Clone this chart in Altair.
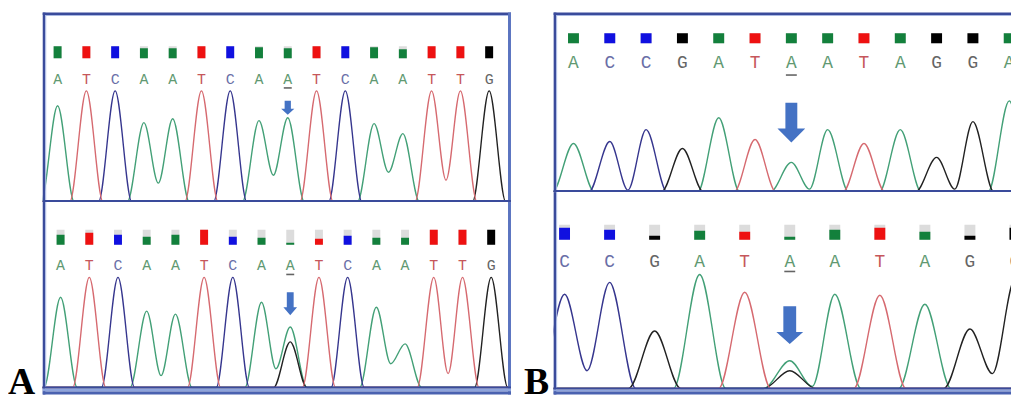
import altair as alt
import pandas as pd

# ---------------- data ----------------
# Panel A, upper trace (reference)
A_TOP_BASES = list("ATCAATCAATCAATTG")
A_TOP_PEAKS = [97, 112, 112, 80, 84, 112, 112, 82, 85, 112, 112, 79, 69, 112, 112, 112]
A_TOP_TROUGH_AFTER = [3, 7, 11, 13]
A_TOP_TROUGHS = [19, 27, 30, 22]
A_TOP_SECOND_AT = []
A_TOP_SECOND_BASE = []
A_TOP_SECOND = []
A_TOP_QUALITY = [12, 12, 12, 10, 10, 12, 12, 11, 10, 12, 12, 11, 9, 12, 12, 12]
A_TOP_VARIANT = 8

# Panel A, lower trace (heterozygous A/G)
A_BOT_BASES = list("ATCAATCAATCAATTG")
A_BOT_PEAKS = [91, 111, 111, 77, 74, 111, 111, 86, 61, 111, 111, 81, 44, 111, 111, 111]
A_BOT_TROUGH_AFTER = [3, 7, 11, 13]
A_BOT_TROUGHS = [12, 19, 24, 14]
A_BOT_SECOND_AT = [8]
A_BOT_SECOND_BASE = ["G"]
A_BOT_SECOND = [46]
A_BOT_QUALITY = [10, 12, 10, 8, 10, 15, 8, 7, 2, 6, 9, 7, 7, 15, 15, 15]
A_BOT_VARIANT = 8

# Panel B, upper trace
B_TOP_BASES = list("ACCGATAATAGGA")
B_TOP_PEAKS = [49, 51, 63, 44, 75, 53, 30, 63, 49, 63, 35, 71, 92]
B_TOP_TROUGH_AFTER = [1, 6, 10]
B_TOP_TROUGHS = [2, 3, 3]
B_TOP_SECOND_AT = []
B_TOP_SECOND_BASE = []
B_TOP_SECOND = []
B_TOP_QUALITY = [10, 10, 10, 10, 10, 10, 10, 10, 10, 10, 10, 10, 10]
B_TOP_VARIANT = 6

# Panel B, lower trace (heterozygous A/G)
B_BOT_BASES = list("CCGATAATAGG")
B_BOT_PEAKS = [95, 107, 58, 115, 97, 28, 95, 94, 85, 60, 110]
B_BOT_TROUGH_AFTER = [0, 5, 9]
B_BOT_TROUGHS = [18, 2, 15]
B_BOT_SECOND_AT = [5]
B_BOT_SECOND_BASE = ["G"]
B_BOT_SECOND = [18]
B_BOT_QUALITY = [12, 10, 4, 9, 8, 3, 10, 12, 8, 4, 12]
B_BOT_VARIANT = 5

# ---------------- styles ----------------
CH = ["A", "C", "G", "T"]
TRACE_COL = ["#43a077", "#36368e", "#222222", "#d66a70"]
SQUARE_COL = ["#13803c", "#1010e0", "#000000", "#ee1111"]
LETTER_COL = ["#4f8f63", "#5a5f9e", "#555555", "#c0454a"]
DARK = "#3a4b9b"
LIGHT = "#a9b8e2"
ARROW = "#4472c4"
ONE = alt.Data(values=[{"k": 0}])


def trace_rows(bases, peaks, t_after, t_vals, s_at, s_base, s_vals, xdom, foot=0.58):
    n = len(bases)
    tr = dict(zip(t_after, t_vals))
    rows = []
    for ch in CH:
        ph = {i: peaks[i] for i, b in enumerate(bases) if b == ch}
        for i, b, v in zip(s_at, s_base, s_vals):
            if b == ch:
                ph[i] = v
        pts = [(xdom[0] - 2, 0)]
        if 0 in ph:
            pts.append((-foot, 0))
        for i in range(n):
            if i in ph:
                pts.append((i, ph[i]))
            if i in ph and (i + 1) in ph:
                pts.append((i + 0.5, tr.get(i, 0)))
            else:
                if i in ph:
                    pts.append((i + foot, 0))
                if (i + 1) in ph:
                    pts.append((i + 1 - foot, 0))
        pts.append((xdom[1] + 2, 0))
        for x, y in pts:
            rows.append({"x": x, "y": y, "ch": ch})
    return pd.DataFrame(rows)


def band(x0, x1, y0, y1, color):
    # decorative frame piece, drawn as a filled rectangle inside the view
    return alt.Chart(ONE).mark_rect(color=color, strokeWidth=0).encode(
        x=alt.value(x0), x2=alt.value(x1), y=alt.value(y0), y2=alt.value(y1))


def panel(bases, peaks, t_after, t_vals, s_at, s_base, s_vals, quality, variant, cfg):
    W, H = cfg["w"], cfg["h"]
    xdom, ydom = cfg["xdom"], cfg["ydom"]
    xs = alt.Scale(domain=xdom, nice=False, zero=False)
    ys = alt.Scale(domain=ydom, nice=False, zero=False)
    base_px = H * (ydom[1] - 0) / (ydom[1] - ydom[0])

    tr = trace_rows(bases, peaks, t_after, t_vals, s_at, s_base, s_vals, xdom)
    traces = alt.Chart(tr).mark_line(interpolate="monotone", strokeWidth=1.4, clip=True).encode(
        x=alt.X("x:Q", scale=xs, axis=None),
        y=alt.Y("y:Q", scale=ys, axis=None),
        color=alt.Color("ch:N", scale=alt.Scale(domain=CH, range=TRACE_COL), legend=None),
    )

    mk = pd.DataFrame({
        "i": list(range(len(bases))),
        "base": bases,
        "q": quality,
    })
    bot, full = cfg["mbottom"], cfg["mfull"]
    grey = alt.Chart(mk).mark_rule(strokeWidth=cfg["mw"], color="#dcdcdc", clip=True).transform_calculate(
        y0=str(bot), y1=str(bot + full)).encode(
        x=alt.X("i:Q", scale=xs, axis=None),
        y=alt.Y("y1:Q", scale=ys, axis=None), y2="y0:Q")
    sq = alt.Chart(mk).mark_rule(strokeWidth=cfg["mw"], clip=True).transform_calculate(
        y0=str(bot), y1=f"{bot} + datum.q").encode(
        x=alt.X("i:Q", scale=xs, axis=None),
        y=alt.Y("y1:Q", scale=ys, axis=None), y2="y0:Q",
        color=alt.Color("base:N", scale=alt.Scale(domain=CH, range=SQUARE_COL), legend=None))
    letters = alt.Chart(mk).mark_text(font="Liberation Mono", fontSize=cfg["fs"], clip=True,
                                      baseline="middle", opacity=0.9).transform_calculate(
        ly=str(cfg["ly"])).encode(
        x=alt.X("i:Q", scale=xs, axis=None),
        y=alt.Y("ly:Q", scale=ys, axis=None),
        text="base:N",
        color=alt.Color("base:N", scale=alt.Scale(domain=CH, range=LETTER_COL), legend=None))

    vdf = pd.DataFrame({"i": [variant]})
    under = alt.Chart(vdf).mark_tick(orient="horizontal", size=cfg["ulen"], thickness=1.6,
                                     color="#222222").transform_calculate(uy=str(cfg["uy"])).encode(
        x=alt.X("i:Q", scale=xs, axis=None), y=alt.Y("uy:Q", scale=ys, axis=None))
    arrow = alt.Chart(vdf).mark_point(shape=cfg["ashape"], size=cfg["asize"], filled=True,
                                      color=ARROW, opacity=1, strokeWidth=0).transform_calculate(
        ay=str(cfg["ay"])).encode(
        x=alt.X("i:Q", scale=xs, axis=None), y=alt.Y("ay:Q", scale=ys, axis=None))

    frames = [band(0, 2.5, 0, H, DARK), band(2.5, 3.5, 0, H, LIGHT)]
    if cfg["top"]:
        frames += [band(0, W, 0, 2.5, DARK), band(2.5, W, 2.5, 3.5, LIGHT)]
    if cfg["right"]:
        frames += [band(W - 3, W, 0, H, "#5b74c0")]
    b = min(base_px, H - 1)
    frames += [band(0, W, b - 1, b + 1, DARK)]
    if base_px < H - 2:
        frames += [band(0, W, base_px + 1, H - 3, "#8ea4dc"), band(0, W, H - 3, H, "#4a62b0")]

    return alt.layer(traces, grey, sq, letters, under, arrow, *frames).resolve_scale(
        color="independent").properties(width=W, height=H)


A_TOP_CFG = dict(w=472, h=191, xdom=[-0.517, 15.759], ydom=[0, 191], mbottom=145, mfull=12, mw=8,
                 ly=124, fs=15, uy=115, ulen=8, ay=95, asize=196, top=True, right=True,
                 ashape="M-0.45,-1L0.45,-1L0.45,0.15L0.95,0.15L0,1L-0.95,0.15L-0.45,0.15Z")
A_BOT_CFG = dict(w=472, h=194, xdom=[-0.622, 15.69], ydom=[-7, 187], mbottom=144, mfull=15, mw=8,
                 ly=123, fs=15, uy=114, ulen=8, ay=84.5, asize=529, top=False, right=True,
                 ashape="M-0.3,-1L0.3,-1L0.3,0.3L0.6,0.3L0,1L-0.6,0.3L-0.3,0.3Z")
B_TOP_CFG = dict(w=461, h=181, xdom=[-0.546, 12.049], ydom=[0, 181], mbottom=150, mfull=10, mw=11,
                 ly=130, fs=18, uy=118, ulen=11, ay=70, asize=1600, top=True, right=False,
                 ashape="M-0.3,-1L0.3,-1L0.3,0.3L0.7,0.3L0,1L-0.7,0.3L-0.3,0.3Z")
B_BOT_CFG = dict(w=461, h=204, xdom=[-0.242, 9.912], ydom=[-6, 198], mbottom=150, mfull=15, mw=11,
                 ly=128, fs=18, uy=118, ulen=11, ay=64, asize=1444, top=False, right=False,
                 ashape="M-0.34,-1L0.34,-1L0.34,0.37L0.71,0.37L0,1L-0.71,0.37L-0.34,0.37Z")

a_top = panel(A_TOP_BASES, A_TOP_PEAKS, A_TOP_TROUGH_AFTER, A_TOP_TROUGHS, A_TOP_SECOND_AT,
              A_TOP_SECOND_BASE, A_TOP_SECOND, A_TOP_QUALITY, A_TOP_VARIANT, A_TOP_CFG)
a_bot = panel(A_BOT_BASES, A_BOT_PEAKS, A_BOT_TROUGH_AFTER, A_BOT_TROUGHS, A_BOT_SECOND_AT,
              A_BOT_SECOND_BASE, A_BOT_SECOND, A_BOT_QUALITY, A_BOT_VARIANT, A_BOT_CFG)
b_top = panel(B_TOP_BASES, B_TOP_PEAKS, B_TOP_TROUGH_AFTER, B_TOP_TROUGHS, B_TOP_SECOND_AT,
              B_TOP_SECOND_BASE, B_TOP_SECOND, B_TOP_QUALITY, B_TOP_VARIANT, B_TOP_CFG)
b_bot = panel(B_BOT_BASES, B_BOT_PEAKS, B_BOT_TROUGH_AFTER, B_BOT_TROUGHS, B_BOT_SECOND_AT,
              B_BOT_SECOND_BASE, B_BOT_SECOND, B_BOT_QUALITY, B_BOT_VARIANT, B_BOT_CFG)


def panel_label(txt, w, x):
    return alt.Chart(ONE).mark_text(text=txt, font="Liberation Serif", fontSize=38, fontWeight="bold",
                                    align="left", baseline="alphabetic", color="#000000").encode(
        x=alt.value(x), y=alt.value(384)).properties(width=w, height=387)


chart = alt.hconcat(
    panel_label("A", 35, 0),
    alt.vconcat(a_top, a_bot, spacing=0, bounds="flush"),
    panel_label("B", 43, 13),
    alt.vconcat(b_top, b_bot, spacing=0, bounds="flush"),
    spacing=0,
).properties(
    padding={"left": 0, "top": 3, "right": 0, "bottom": 0},
    background="white",
).configure_view(stroke=None, fill="white")

chart.save("out.html", embed_options={"renderer": "svg", "actions": False})
